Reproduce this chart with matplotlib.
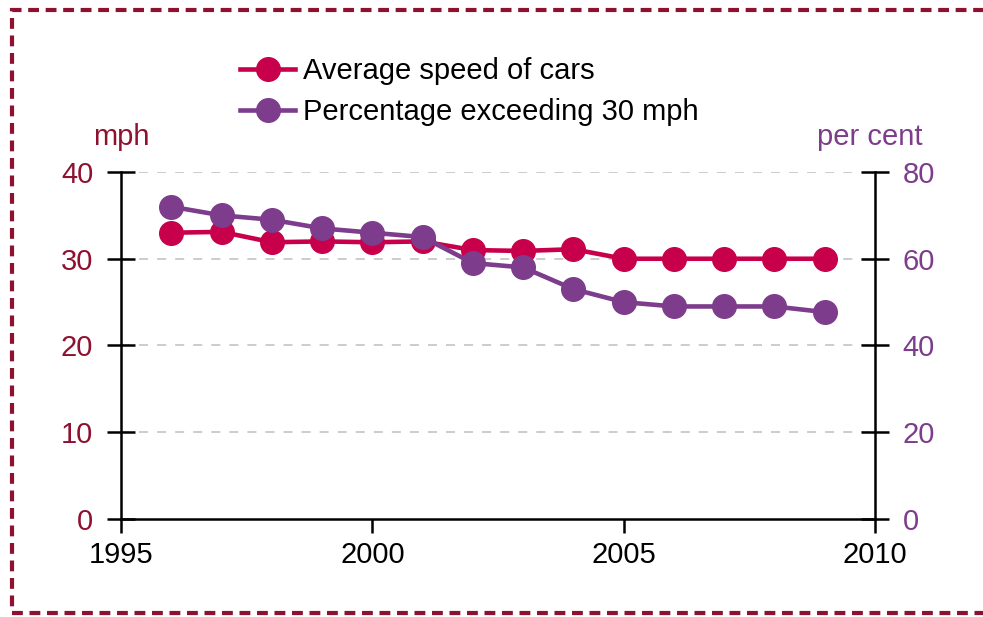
import matplotlib.pyplot as plt
from matplotlib.patches import Rectangle

plt.rcParams['font.family'] = ['Liberation Sans', 'DejaVu Sans']

years = [1996, 1997, 1998, 1999, 2000, 2001, 2002, 2003, 2004, 2005, 2006, 2007, 2008, 2009]
avg_speed = [33.0, 33.1, 31.9, 32.0, 31.9, 32.0, 31.0, 30.9, 31.1, 30.0, 30.0, 30.0, 30.0, 30.0]
pct_over_30 = [72, 70, 69, 67, 66, 65, 59, 58, 53, 50, 49, 49, 49, 47.7]

x_ticks = [1995, 2000, 2005, 2010]
left_ticks = [0, 10, 20, 30, 40]
right_ticks = [0, 20, 40, 60, 80]

red = '#C8004B'
purple = '#7D3C8C'
dark_red = '#8E1230'
fs = 21

fig = plt.figure(figsize=(9.83, 6.17), dpi=100)
ax = fig.add_axes([121/983, 1 - 519/617, (875-121)/983, (519-172)/617])
ax2 = ax.twinx()

# dashed frame round the figure
fig.patches.append(Rectangle((12/983, 4/617), 1.2, 1 - 14/617, transform=fig.transFigure,
                             fill=False, edgecolor=dark_red, lw=3, ls=(0, (2.6, 1.6)),
                             clip_on=False))

for y in left_ticks[1:]:
    ax.axhline(y, color='#c8c8c8', lw=1.3, ls=(0, (5, 5)), zorder=0)

l1, = ax.plot(years, avg_speed, color=red, lw=3.3, marker='o', ms=17, zorder=3,
              label='Average speed of cars')
l2, = ax2.plot(years, pct_over_30, color=purple, lw=3.3, marker='o', ms=17, zorder=3,
               label='Percentage exceeding 30 mph')

ax.set_xlim(1995, 2010)
ax.set_ylim(0, 40)
ax2.set_ylim(0, 80)
ax.set_xticks(x_ticks)
ax.set_yticks(left_ticks)
ax2.set_yticks(right_ticks)

for a in (ax, ax2):
    a.spines['top'].set_visible(False)
    for s in a.spines.values():
        s.set_linewidth(1.8)
ax.spines['right'].set_visible(False)
ax2.spines['left'].set_visible(False)
ax2.spines['bottom'].set_visible(False)

ax.tick_params(axis='x', direction='out', length=10, width=1.8, labelsize=fs, pad=6)
ax.tick_params(axis='y', direction='inout', length=20, width=1.8, labelsize=fs,
               labelcolor=dark_red, pad=10)
ax2.tick_params(axis='y', direction='inout', length=20, width=1.8, labelsize=fs,
                labelcolor=purple, pad=10)

fig.text(121/983, 1 - 137/617, 'mph', color=dark_red, fontsize=fs, ha='center', va='center')
fig.text(870/983, 1 - 137/617, 'per cent', color=purple, fontsize=fs, ha='center', va='center')

fig.legend(handles=[l1, l2], loc='upper left', bbox_to_anchor=(240/983, 1 - 57/617),
           frameon=False, fontsize=fs, handlelength=1.9, handletextpad=0.25,
           labelspacing=0.44, borderaxespad=0, borderpad=0)

fig.savefig('out.png', dpi=100)
